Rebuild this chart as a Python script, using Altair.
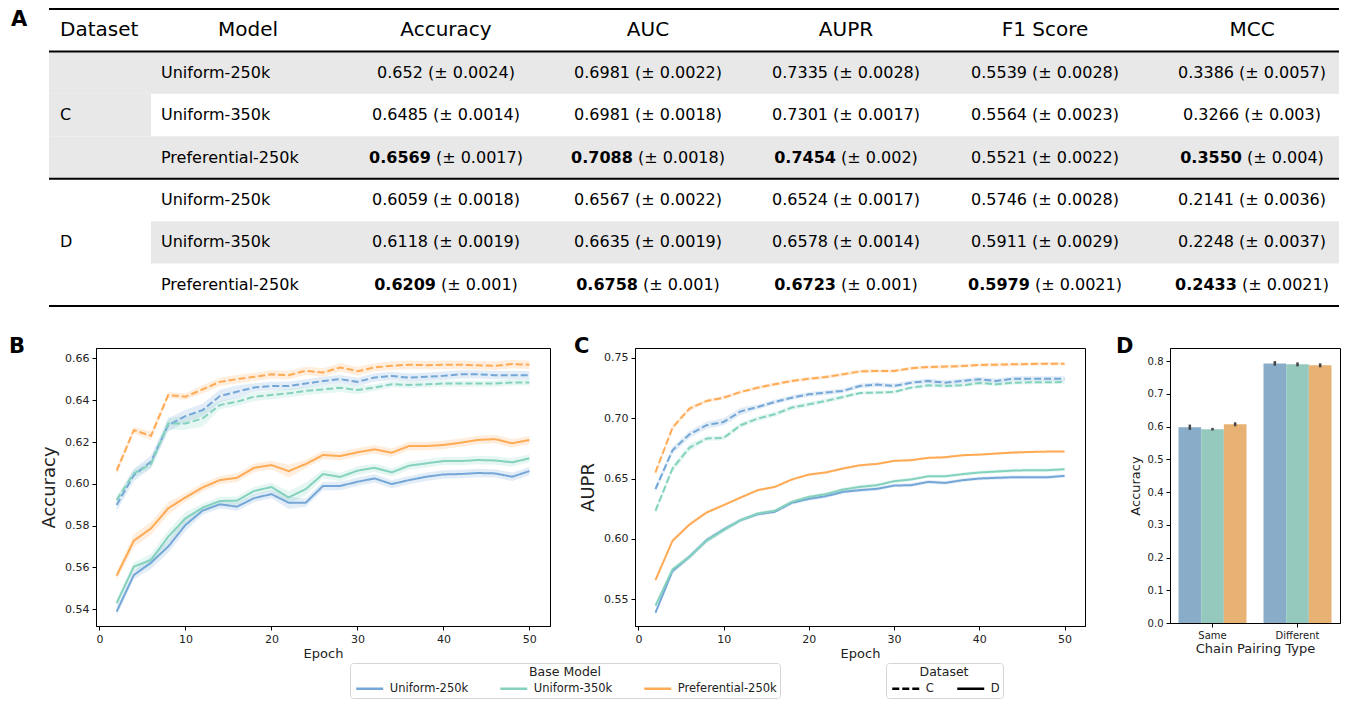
import altair as alt
import pandas as pd

FONT = "DejaVu Sans"

# ---------------- Table (panel A) ----------------
table_metrics = ["Accuracy", "AUC", "AUPR", "F1 Score", "MCC"]
table_models = ["Uniform-250k", "Uniform-350k", "Preferential-250k"]
table_datasets = ["C", "D"]

c_means = {
    "Accuracy": ["0.652", "0.6485", "0.6569"],
    "AUC": ["0.6981", "0.6981", "0.7088"],
    "AUPR": ["0.7335", "0.7301", "0.7454"],
    "F1 Score": ["0.5539", "0.5564", "0.5521"],
    "MCC": ["0.3386", "0.3266", "0.3550"],
}
c_sds = {
    "Accuracy": ["0.0024", "0.0014", "0.0017"],
    "AUC": ["0.0022", "0.0018", "0.0018"],
    "AUPR": ["0.0028", "0.0017", "0.002"],
    "F1 Score": ["0.0028", "0.0023", "0.0022"],
    "MCC": ["0.0057", "0.003", "0.004"],
}
c_bold = {
    "Accuracy": [False, False, True],
    "AUC": [False, False, True],
    "AUPR": [False, False, True],
    "F1 Score": [False, False, False],
    "MCC": [False, False, True],
}
d_means = {
    "Accuracy": ["0.6059", "0.6118", "0.6209"],
    "AUC": ["0.6567", "0.6635", "0.6758"],
    "AUPR": ["0.6524", "0.6578", "0.6723"],
    "F1 Score": ["0.5746", "0.5911", "0.5979"],
    "MCC": ["0.2141", "0.2248", "0.2433"],
}
d_sds = {
    "Accuracy": ["0.0018", "0.0019", "0.001"],
    "AUC": ["0.0022", "0.0019", "0.001"],
    "AUPR": ["0.0017", "0.0014", "0.001"],
    "F1 Score": ["0.0028", "0.0029", "0.0021"],
    "MCC": ["0.0036", "0.0037", "0.0021"],
}
d_bold = {
    "Accuracy": [False, False, True],
    "AUC": [False, False, True],
    "AUPR": [False, False, True],
    "F1 Score": [False, False, True],
    "MCC": [False, False, True],
}

# ---------------- Training curves (panels B, C) ----------------
epochs = [2, 4, 6, 8, 10, 12, 14, 16, 18, 20, 22, 24, 26, 28, 30, 32, 34, 36, 38, 40, 42, 44, 46, 48, 50]

acc_C_u250 = [0.5899, 0.6042, 0.6106, 0.6281, 0.6324, 0.6353, 0.6420, 0.6441, 0.6461, 0.6468, 0.6468, 0.6480, 0.6492,
              0.6501, 0.6488, 0.6509, 0.6516, 0.6508, 0.6512, 0.6517, 0.6524, 0.6524, 0.6520, 0.6520, 0.6520]
acc_C_u350 = [0.5923, 0.6050, 0.6095, 0.6289, 0.6289, 0.6313, 0.6377, 0.6393, 0.6417, 0.6425, 0.6433, 0.6445, 0.6452,
              0.6460, 0.6449, 0.6461, 0.6477, 0.6473, 0.6476, 0.6480, 0.6480, 0.6480, 0.6480, 0.6485, 0.6485]
acc_C_p250 = [0.6063, 0.6257, 0.6230, 0.6425, 0.6417, 0.6452, 0.6488, 0.6501, 0.6512, 0.6524, 0.6520, 0.6541, 0.6533,
              0.6557, 0.6539, 0.6557, 0.6565, 0.6570, 0.6568, 0.6570, 0.6570, 0.6567, 0.6565, 0.6573, 0.6570]
acc_D_u250 = [0.5389, 0.5564, 0.5623, 0.5700, 0.5803, 0.5872, 0.5902, 0.5891, 0.5932, 0.5951, 0.5910, 0.5910, 0.5990,
              0.5990, 0.6010, 0.6026, 0.5999, 0.6018, 0.6034, 0.6045, 0.6047, 0.6052, 0.6050, 0.6034, 0.6061]
acc_D_u350 = [0.5429, 0.5604, 0.5636, 0.5747, 0.5835, 0.5886, 0.5918, 0.5920, 0.5966, 0.5985, 0.5935, 0.5975, 0.6047,
              0.6033, 0.6063, 0.6077, 0.6055, 0.6087, 0.6098, 0.6109, 0.6109, 0.6114, 0.6112, 0.6103, 0.6122]
acc_D_p250 = [0.5561, 0.5728, 0.5787, 0.5883, 0.5935, 0.5983, 0.6018, 0.6029, 0.6077, 0.6090, 0.6061, 0.6095, 0.6138,
              0.6133, 0.6151, 0.6165, 0.6149, 0.6181, 0.6181, 0.6186, 0.6197, 0.6210, 0.6214, 0.6194, 0.6210]

acc_hw_C_u250 = [0.003, 0.003, 0.003, 0.003, 0.003, 0.003, 0.003, 0.003, 0.002, 0.002, 0.002, 0.002, 0.002,
                 0.002, 0.002, 0.002, 0.002, 0.002, 0.002, 0.002, 0.002, 0.002, 0.002, 0.002, 0.002]
acc_hw_C_u350 = [0.002, 0.002, 0.002, 0.003, 0.003, 0.004, 0.002, 0.002, 0.002, 0.002, 0.002, 0.002, 0.002,
                 0.002, 0.002, 0.0015, 0.0015, 0.0015, 0.0015, 0.0015, 0.0015, 0.0015, 0.0015, 0.0015, 0.0015]
acc_hw_C_p250 = [0.002, 0.0015, 0.002, 0.0015, 0.0015, 0.002, 0.002, 0.002, 0.002, 0.002, 0.002, 0.002, 0.002,
                 0.002, 0.002, 0.002, 0.002, 0.002, 0.002, 0.002, 0.002, 0.002, 0.002, 0.002, 0.002]
acc_hw_D_u250 = [0.002, 0.002, 0.003, 0.003, 0.003, 0.002, 0.002, 0.002, 0.002, 0.002, 0.003, 0.002, 0.002,
                 0.002, 0.002, 0.002, 0.002, 0.002, 0.002, 0.002, 0.002, 0.002, 0.002, 0.002, 0.002]
acc_hw_D_u350 = [0.002, 0.002, 0.003, 0.003, 0.003, 0.002, 0.002, 0.002, 0.002, 0.002, 0.003, 0.003, 0.002,
                 0.002, 0.002, 0.002, 0.002, 0.002, 0.002, 0.002, 0.002, 0.002, 0.002, 0.002, 0.002]
acc_hw_D_p250 = [0.002, 0.003, 0.003, 0.003, 0.002, 0.002, 0.002, 0.002, 0.002, 0.002, 0.003, 0.002, 0.002,
                 0.002, 0.002, 0.002, 0.002, 0.002, 0.002, 0.002, 0.002, 0.002, 0.002, 0.002, 0.002]

aupr_C_u250 = [0.6412, 0.6734, 0.6866, 0.6941, 0.6968, 0.7056, 0.7092, 0.7134, 0.7169, 0.7197, 0.7211, 0.7225, 0.7266,
               0.7277, 0.7266, 0.7293, 0.7307, 0.7293, 0.7307, 0.7321, 0.7307, 0.7326, 0.7326, 0.7326, 0.7326]
aupr_C_u350 = [0.6233, 0.6583, 0.6756, 0.6831, 0.6836, 0.6941, 0.6996, 0.7032, 0.7087, 0.7114, 0.7142, 0.7175, 0.7208,
               0.7211, 0.7216, 0.7252, 0.7271, 0.7266, 0.7271, 0.7291, 0.7280, 0.7293, 0.7296, 0.7296, 0.7299]
aupr_C_p250 = [0.6550, 0.6921, 0.7079, 0.7142, 0.7169, 0.7216, 0.7252, 0.7280, 0.7307, 0.7326, 0.7340, 0.7362, 0.7387,
               0.7390, 0.7390, 0.7412, 0.7423, 0.7426, 0.7431, 0.7439, 0.7442, 0.7445, 0.7448, 0.7450, 0.7450]
aupr_D_u250 = [0.5390, 0.5734, 0.5853, 0.5990, 0.6078, 0.6156, 0.6205, 0.6225, 0.6299, 0.6332, 0.6354, 0.6390, 0.6404,
               0.6415, 0.6442, 0.6445, 0.6472, 0.6464, 0.6486, 0.6500, 0.6506, 0.6511, 0.6511, 0.6511, 0.6522]
aupr_D_u350 = [0.5448, 0.5748, 0.5853, 0.5985, 0.6073, 0.6156, 0.6211, 0.6233, 0.6307, 0.6348, 0.6371, 0.6409, 0.6431,
               0.6445, 0.6478, 0.6492, 0.6519, 0.6519, 0.6536, 0.6550, 0.6558, 0.6566, 0.6569, 0.6569, 0.6577]
aupr_D_p250 = [0.5660, 0.5985, 0.6120, 0.6219, 0.6280, 0.6343, 0.6404, 0.6431, 0.6492, 0.6533, 0.6550, 0.6583, 0.6610,
               0.6621, 0.6646, 0.6652, 0.6671, 0.6676, 0.6693, 0.6698, 0.6707, 0.6715, 0.6720, 0.6723, 0.6723]

aupr_hw_C_u250 = [0.003, 0.003, 0.003, 0.003, 0.003, 0.003, 0.002, 0.002, 0.002, 0.002, 0.002, 0.002, 0.002,
                  0.002, 0.002, 0.002, 0.002, 0.002, 0.002, 0.002, 0.002, 0.002, 0.002, 0.002, 0.002]
aupr_hw_C_u350 = [0.003, 0.003, 0.003, 0.002, 0.002, 0.002, 0.002, 0.002, 0.002, 0.002, 0.002, 0.002, 0.0015,
                  0.0015, 0.0015, 0.0015, 0.0015, 0.0015, 0.0015, 0.0015, 0.0015, 0.0015, 0.0015, 0.0015, 0.0015]
aupr_hw_C_p250 = [0.002, 0.002, 0.002, 0.0015, 0.0015, 0.0015, 0.0015, 0.0015, 0.0015, 0.0015, 0.0015, 0.0015, 0.0015,
                  0.0015, 0.0015, 0.0015, 0.0015, 0.0015, 0.0015, 0.0015, 0.0015, 0.0015, 0.0015, 0.0015, 0.0015]
aupr_hw_D_u250 = [0.002, 0.002, 0.002, 0.002, 0.002, 0.0015, 0.0015, 0.0015, 0.0015, 0.0015, 0.0015, 0.0015, 0.0015,
                  0.0015, 0.0015, 0.0015, 0.0015, 0.0015, 0.0015, 0.0015, 0.0015, 0.0015, 0.0015, 0.0015, 0.0015]
aupr_hw_D_u350 = [0.002, 0.002, 0.002, 0.002, 0.002, 0.0015, 0.0015, 0.0015, 0.0015, 0.0015, 0.0015, 0.0015, 0.0015,
                  0.0015, 0.0015, 0.0015, 0.0015, 0.0015, 0.0015, 0.0015, 0.0015, 0.0015, 0.0015, 0.0015, 0.0015]
aupr_hw_D_p250 = [0.0015, 0.0015, 0.0015, 0.0015, 0.001, 0.001, 0.001, 0.001, 0.001, 0.001, 0.001, 0.001, 0.001,
                  0.001, 0.001, 0.001, 0.001, 0.001, 0.001, 0.001, 0.001, 0.001, 0.001, 0.001, 0.001]

# ---------------- Bar chart (panel D) ----------------
pair_types = ["Same", "Different"]
bar_same = [0.598, 0.592, 0.607]
bar_same_err = [0.008, 0.004, 0.006]
bar_diff = [0.793, 0.790, 0.787]
bar_diff_err = [0.007, 0.006, 0.006]

# ---------------- Styles ----------------
line_colors = ["#74A7D7", "#84D2BD", "#FFAA55"]
bar_colors = ["#89ADC9", "#96C9BE", "#E9B275"]
gray = "#e8e8e8"

# Layout (page pixels): panel B plot area origin sits at x=95
ORIG_X = 95
TBL_W = 1338 - ORIG_X

# ================= TABLE =================
rows = ["hdr", "r0", "r1", "r2", "r3", "r4", "r5"]
col_centers = {"Accuracy": 445, "AUC": 647, "AUPR": 845, "F1 Score": 1044, "MCC": 1251}

REG = {"0123456789": 0.636, ".": 0.318, " ": 0.318, "(": 0.390, ")": 0.390, "±": 0.838}
BLD = {"0123456789": 0.696, ".": 0.380, " ": 0.348}


def text_w(s, table, size):
    w = 0.0
    for ch in s:
        for k, v in table.items():
            if ch in k:
                w += v
                break
        else:
            w += 0.6
    return w * size


BODY = 16
cells = []
for di, ds in enumerate(table_datasets):
    means = c_means if ds == "C" else d_means
    sds = c_sds if ds == "C" else d_sds
    bolds = c_bold if ds == "C" else d_bold
    for mi, m in enumerate(table_models):
        row = rows[1 + di * 3 + mi]
        for met in table_metrics:
            val = means[met][mi]
            rest = "(± " + sds[met][mi] + ")"
            b = bolds[met][mi]
            wv = text_w(val, BLD if b else REG, BODY)
            wr = text_w(rest, REG, BODY)
            sp = 0.318 * BODY
            start = col_centers[met] - (wv + sp + wr) / 2
            cells.append({"row": row, "val": val, "rest": rest, "bold": b,
                          "xv": start, "xr": start + wv + sp})
cells_df = pd.DataFrame(cells)

model_df = pd.DataFrame({"row": rows[1:], "label": table_models * 2, "x": [160] * 6})
ds_df = pd.DataFrame({"row": ["r1", "r4"], "label": table_datasets, "x": [59, 59]})
hdr_df = pd.DataFrame({"row": ["hdr"] * 6, "label": ["Model"] + table_metrics,
                       "x": [247] + [col_centers[m] for m in table_metrics]})
hdr_left_df = pd.DataFrame({"row": ["hdr"], "label": ["Dataset"], "x": [59]})
a_df = pd.DataFrame({"row": ["hdr"], "label": ["A"], "x": [10]})

bg_df = pd.DataFrame({
    "row": ["r0", "r1", "r2", "r4"],
    "x0": [48, 48, 48, 150],
    "x1": [1338, 150, 1338, 1338],
})
rule_top_df = pd.DataFrame({"row": ["hdr", "r0", "r3"], "x0": [48] * 3, "x1": [1338] * 3})
rule_bot_df = pd.DataFrame({"row": ["r5"], "x0": [48], "x1": [1338]})

ty = alt.Scale(domain=rows, paddingInner=0, paddingOuter=0)
tx = alt.Scale(domain=[ORIG_X, ORIG_X + TBL_W], nice=False, zero=False)

bg = alt.Chart(bg_df).mark_rect(color=gray).encode(
    x=alt.X("x0:Q", scale=tx, axis=None), x2="x1:Q",
    y=alt.Y("row:N", scale=ty, axis=None))
rules_top = alt.Chart(rule_top_df).mark_rule(color="black", strokeWidth=2).encode(
    x=alt.X("x0:Q", scale=tx, axis=None), x2="x1:Q",
    y=alt.Y("row:N", scale=ty, axis=None, bandPosition=0))
rules_bot = alt.Chart(rule_bot_df).mark_rule(color="black", strokeWidth=2).encode(
    x=alt.X("x0:Q", scale=tx, axis=None), x2="x1:Q",
    y=alt.Y("row:N", scale=ty, axis=None, bandPosition=1))


def tlayer(df, field, xfield, size, align="left", weight="normal", dy=0):
    return alt.Chart(df).mark_text(align=align, baseline="middle", font=FONT, fontSize=size,
                                   fontWeight=weight, color="black", dy=dy).encode(
        x=alt.X(f"{xfield}:Q", scale=tx, axis=None),
        y=alt.Y("row:N", scale=ty, axis=None),
        text=f"{field}:N")


t_hdr = tlayer(hdr_df, "label", "x", 20, align="center")
t_hdr_l = tlayer(hdr_left_df, "label", "x", 20)
t_a = tlayer(a_df, "label", "x", 21, weight="bold", dy=-10)
t_ds = tlayer(ds_df, "label", "x", BODY)
t_model = tlayer(model_df, "label", "x", BODY)
t_val_b = tlayer(cells_df[cells_df["bold"]], "val", "xv", BODY, weight="bold")
t_val_n = tlayer(cells_df[~cells_df["bold"]], "val", "xv", BODY)
t_rest = tlayer(cells_df, "rest", "xr", BODY)

table = alt.layer(bg, rules_top, rules_bot, t_hdr, t_hdr_l, t_a, t_ds, t_model,
                  t_val_b, t_val_n, t_rest).properties(
    width=TBL_W, height=297, view=alt.ViewBackground(strokeWidth=0))

# ================= LINE PANELS =================
def long_df(series, hws):
    recs = []
    keys = [("C", "Uniform-250k"), ("C", "Uniform-350k"), ("C", "Preferential-250k"),
            ("D", "Uniform-250k"), ("D", "Uniform-350k"), ("D", "Preferential-250k")]
    for (ds, m), vals, hw in zip(keys, series, hws):
        for e, v, h in zip(epochs, vals, hw):
            recs.append({"dataset": ds, "model": m, "epoch": e, "value": v, "lo": v - h, "hi": v + h})
    return pd.DataFrame(recs)


acc_df = long_df([acc_C_u250, acc_C_u350, acc_C_p250, acc_D_u250, acc_D_u350, acc_D_p250],
                 [acc_hw_C_u250, acc_hw_C_u350, acc_hw_C_p250, acc_hw_D_u250, acc_hw_D_u350, acc_hw_D_p250])
aupr_df = long_df([aupr_C_u250, aupr_C_u350, aupr_C_p250, aupr_D_u250, aupr_D_u350, aupr_D_p250],
                  [aupr_hw_C_u250, aupr_hw_C_u350, aupr_hw_C_p250, aupr_hw_D_u250, aupr_hw_D_u350, aupr_hw_D_p250])

color_scale = alt.Scale(domain=table_models, range=line_colors)
band_scale = alt.Scale(domain=table_models, range=line_colors)
dash_scale = alt.Scale(domain=["C", "D"], range=[[7, 3], [1, 0]])

axis_common = dict(labelFont=FONT, titleFont=FONT, labelColor="#222", titleColor="#222",
                   domainColor="black", tickColor="black", tickSize=4, labelPadding=3,
                   titleFontWeight="normal", grid=False)


def panel_title(letter, dx):
    return alt.TitleParams(letter, anchor="start", frame="group", dx=dx, dy=22, offset=-4,
                           baseline="alphabetic", fontSize=21, font=FONT, fontWeight="bold",
                           color="black")


# legend placement is relative to the table's origin (page x=95, y=9)
LEG_Y = 654
legend_common = dict(orient="none", legendY=LEG_Y, direction="horizontal", titleAnchor="middle",
                     symbolType="M-2,0L2,0", symbolSize=182, symbolStrokeWidth=2.5, symbolOpacity=1,
                     symbolOffset=8.75, labelOffset=12,
                     labelFontSize=11.5, titleFontSize=12.5, titleFontWeight="normal",
                     labelFont=FONT, titleFont=FONT, strokeColor="#d6d6d6", padding=3,
                     cornerRadius=3, fillColor="white", titlePadding=2, labelColor="#222",
                     titleColor="#222")


def line_panel(df, ytitle, ydomain, yticks, letter, dx, with_legend, width):
    xs = alt.Scale(domain=[-0.4, 52.4], nice=False, zero=False)
    ys = alt.Scale(domain=ydomain, nice=False, zero=False)
    xaxis = alt.Axis(title="Epoch", values=[0, 10, 20, 30, 40, 50], labelFontSize=11,
                     titleFontSize=13, titlePadding=3, **axis_common)
    yaxis = alt.Axis(title=ytitle, values=yticks, format=".2f", labelFontSize=11,
                     titleFontSize=18, titlePadding=6, **axis_common)
    if with_legend:
        cleg = alt.Legend(title="Base Model", legendX=349 - ORIG_X, columnPadding=26,
                          **legend_common)
        dleg = alt.Legend(title="Dataset", legendX=885 - ORIG_X, symbolStrokeColor="black",
                          columnPadding=18, **legend_common)
        color = alt.Color("model:N", scale=color_scale, legend=cleg, sort=table_models)
        dash = alt.StrokeDash("dataset:N", scale=dash_scale, legend=dleg)
    else:
        color = alt.Color("model:N", scale=color_scale, sort=table_models)
        dash = alt.StrokeDash("dataset:N", scale=dash_scale)
    base = alt.Chart(df)
    band = base.mark_area(opacity=0.2).encode(
        x=alt.X("epoch:Q", scale=xs, axis=xaxis),
        y=alt.Y("lo:Q", scale=ys, axis=yaxis), y2="hi:Q",
        fill=alt.Fill("model:N", scale=band_scale, legend=None),
        detail="dataset:N")
    line = base.mark_line(strokeWidth=2).encode(
        x=alt.X("epoch:Q", scale=xs, axis=xaxis),
        y=alt.Y("value:Q", scale=ys, axis=yaxis),
        color=color, strokeDash=dash)
    return alt.layer(band, line).properties(
        width=width, height=278, title=panel_title(letter, dx),
        view=alt.ViewBackground(stroke="black", strokeWidth=1))


pB = line_panel(acc_df, "Accuracy", [0.532, 0.665], [0.54, 0.56, 0.58, 0.60, 0.62, 0.64, 0.66],
                "B", -87, True, 454)
pC = line_panel(aupr_df, "AUPR", [0.528, 0.758], [0.55, 0.60, 0.65, 0.70, 0.75], "C", -61, False, 450)

# ================= BAR PANEL =================
bar_recs = []
for i, m in enumerate(table_models):
    bar_recs.append({"pair": "Same", "model": m, "acc": bar_same[i],
                     "lo": bar_same[i] - bar_same_err[i], "hi": bar_same[i] + bar_same_err[i]})
for i, m in enumerate(table_models):
    bar_recs.append({"pair": "Different", "model": m, "acc": bar_diff[i],
                     "lo": bar_diff[i] - bar_diff_err[i], "hi": bar_diff[i] + bar_diff_err[i]})
bar_df = pd.DataFrame(bar_recs)

bxs = alt.Scale(domain=pair_types, paddingInner=0.2, paddingOuter=0.1)
bys = alt.Scale(domain=[0, 0.84], nice=False, zero=True)
boff = alt.Scale(domain=table_models, paddingInner=0, paddingOuter=0)
bxaxis = alt.Axis(title="Chain Pairing Type", labelAngle=0, labelFontSize=10, titleFontSize=13,
                  titlePadding=2, **axis_common)
byaxis = alt.Axis(title="Accuracy", values=[0, 0.1, 0.2, 0.3, 0.4, 0.5, 0.6, 0.7, 0.8], format=".1f",
                  labelFontSize=10, titleFontSize=13, titlePadding=5, **axis_common)
bars = alt.Chart(bar_df).mark_bar().encode(
    x=alt.X("pair:N", scale=bxs, axis=bxaxis, sort=pair_types),
    xOffset=alt.XOffset("model:N", scale=boff, sort=table_models),
    y=alt.Y("acc:Q", scale=bys, axis=byaxis),
    fill=alt.Fill("model:N", scale=alt.Scale(domain=table_models, range=bar_colors), legend=None))
errs = alt.Chart(bar_df).mark_rule(color="#444444", strokeWidth=2.5).encode(
    x=alt.X("pair:N", scale=bxs, axis=bxaxis, sort=pair_types),
    xOffset=alt.XOffset("model:N", scale=boff, sort=table_models),
    y=alt.Y("lo:Q", scale=bys, axis=byaxis), y2="hi:Q")
pD = alt.layer(bars, errs).properties(
    width=170, height=275, title=panel_title("D", -54),
    view=alt.ViewBackground(stroke="black", strokeWidth=1))

bottom = alt.hconcat(pB, pC, pD, spacing=85, bounds="flush").resolve_scale(fill="independent")
chart = alt.vconcat(table, bottom, spacing=42, bounds="flush").properties(padding=0).configure(
    font=FONT).configure_view(stroke="black")

chart.save("out.html", embed_options={"renderer": "svg", "actions": False})
